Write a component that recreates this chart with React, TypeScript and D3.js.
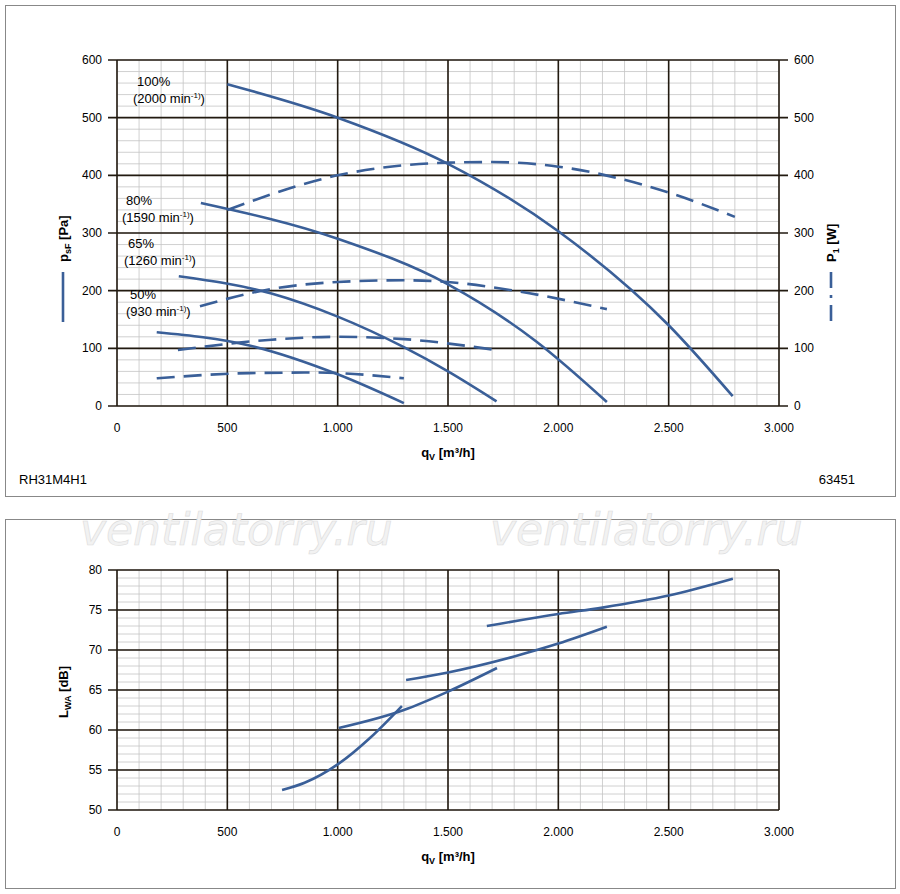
import * as d3 from "d3";

const xTicks = [0, 500, 1000, 1500, 2000, 2500, 3000];
const xTickLabels = ["0", "500", "1.000", "1.500", "2.000", "2.500", "3.000"];
const pTicks = [0, 100, 200, 300, 400, 500, 600];
const lTicks = [50, 55, 60, 65, 70, 75, 80];

type Pt = [number, number];
const pressure: Pt[][] = [
  [[500, 558], [1000, 500], [1500, 420], [2000, 303], [2500, 140], [2790, 17]],
  [[380, 352], [1000, 290], [1500, 211], [1900, 112], [2220, 7]],
  [[280, 225], [700, 195], [1000, 155], [1300, 102], [1500, 60], [1720, 8]],
  [[180, 128], [600, 105], [1000, 55], [1300, 5]],
];
const power: Pt[][] = [
  [[500, 340], [1000, 400], [1500, 422], [1700, 423], [2000, 415], [2500, 370], [2800, 328]],
  [[376, 173], [700, 203], [1000, 215], [1300, 218], [1500, 215], [1800, 200], [2220, 168]],
  [[276, 97], [700, 115], [1000, 120], [1300, 116], [1720, 97]],
  [[180, 48], [600, 57], [900, 58], [1300, 48]],
];
const sound: Pt[][] = [
  [[748, 52.5], [850, 53.4], [1000, 55.7], [1150, 59.1], [1291, 63]],
  [[1005, 60.25], [1300, 62.5], [1500, 64.8], [1722, 67.75]],
  [[1310, 66.25], [1500, 67.2], [1800, 69.2], [2000, 70.8], [2220, 72.9]],
  [[1676, 73], [2000, 74.5], [2200, 75.3], [2500, 76.8], [2791, 78.9]],
];
const speedLabels = [
  ["100%", "(2000 min", "-1)", ")", 137, 86],
  ["80%", "(1590 min", "-1)", ")", 126, 205],
  ["65%", "(1260 min", "-1)", ")", 128, 248],
  ["50%", "(930 min", "-1)", ")", 130, 299],
] as const;

const blue = "#3a5f98";
const font = "Liberation Sans, Arial, sans-serif";

function Grid({ x, y, ymin, ymax, ystep }: { x: d3.ScaleLinear<number, number>; y: d3.ScaleLinear<number, number>; ymin: number; ymax: number; ystep: number }) {
  const xs = d3.range(0, 3001, 100);
  const ys = d3.range(ymin, ymax + 0.001, ystep);
  const [x0, x1] = x.range();
  const [y0, y1] = y.range();
  return (
    <g>
      {xs.map((v) => (
        <line key={"x" + v} x1={x(v)} x2={x(v)} y1={y0} y2={y1} stroke="#c4c4c4" strokeWidth={0.8} />
      ))}
      {ys.map((v) => (
        <line key={"y" + v} x1={x0} x2={x1} y1={y(v)} y2={y(v)} stroke="#c4c4c4" strokeWidth={0.8} />
      ))}
    </g>
  );
}

export default function App() {
  const x = d3.scaleLinear().domain([0, 3000]).range([117, 779]);
  const yP = d3.scaleLinear().domain([0, 600]).range([406, 60]);
  const yL = d3.scaleLinear().domain([50, 80]).range([810, 570]);
  const lineP = d3.line<Pt>().x((d) => x(d[0])).y((d) => yP(d[1])).curve(d3.curveMonotoneX);
  const lineL = d3.line<Pt>().x((d) => x(d[0])).y((d) => yL(d[1])).curve(d3.curveMonotoneX);

  const majorX = (y0: number, y1: number) =>
    xTicks.map((v) => <line key={v} x1={x(v)} x2={x(v)} y1={y0} y2={y1} stroke="#221a10" strokeWidth={1.6} />);

  return (
    <svg width={900} height={894} style={{ position: "absolute", left: 0, top: 0 }} fontFamily={font}>
      <rect x={0} y={0} width={900} height={894} fill="#fff" />
      <rect x={5.5} y={5.5} width={890} height={491} fill="none" stroke="#888" />
      <rect x={5.5} y={519.5} width={890} height={369} fill="none" stroke="#888" />

      {/* top chart */}
      <Grid x={x} y={yP} ymin={0} ymax={600} ystep={20} />
      {majorX(60, 406)}
      {pTicks.map((v) => (
        <g key={v}>
          <line x1={108} x2={788} y1={yP(v)} y2={yP(v)} stroke="#221a10" strokeWidth={1.6} />
          <text x={102} y={yP(v) + 4} fontSize={12} textAnchor="end">{v}</text>
          <text x={794} y={yP(v) + 4} fontSize={12}>{v}</text>
        </g>
      ))}
      {xTicks.map((v, i) => (
        <text key={v} x={x(v)} y={432} fontSize={12} textAnchor="middle">{xTickLabels[i]}</text>
      ))}
      {pressure.map((c, i) => (
        <path key={i} d={lineP(c)!} fill="none" stroke={blue} strokeWidth={2.6} />
      ))}
      {power.map((c, i) => (
        <path key={i} d={lineP(c)!} fill="none" stroke={blue} strokeWidth={2.6} strokeDasharray="18 9" />
      ))}
      {speedLabels.map(([a, b, sup, c, lx, ly]) => (
        <g key={a} fontSize={13}>
          <text x={lx} y={ly}>{a}</text>
          <text x={lx - 4} y={ly + 17}>
            {b}<tspan fontSize={8} dy={-5}>{sup}</tspan><tspan dy={5}>{c}</tspan>
          </text>
        </g>
      ))}
      <text x={448} y={457} fontSize={13} fontWeight="bold" textAnchor="middle">
        q<tspan fontSize={9} dy={3}>V</tspan><tspan dy={-3}> [m³/h]</tspan>
      </text>
      <text transform="translate(68,262) rotate(-90)" fontSize={13} fontWeight="bold">
        p<tspan fontSize={9} dy={3}>sF</tspan><tspan dy={-3}> [Pa]</tspan>
      </text>
      <line x1={63} x2={63} y1={272} y2={322} stroke={blue} strokeWidth={2.6} />
      <text transform="translate(836,262) rotate(-90)" fontSize={13} fontWeight="bold">
        P<tspan fontSize={9} dy={3}>1</tspan><tspan dy={-3}> [W]</tspan>
      </text>
      <line x1={831} x2={831} y1={272} y2={323} stroke={blue} strokeWidth={2.6} strokeDasharray="16 7 3 7" />
      <text x={19} y={484} fontSize={13}>RH31M4H1</text>
      <text x={855} y={484} fontSize={13} textAnchor="end">63451</text>

      {/* watermark */}
      <text x={80} y={545} fontSize={44} fontStyle="italic" fill="#f2f2f2" stroke="#dcdcdc" strokeWidth={0.6} fontFamily="DejaVu Sans, sans-serif">ventilatorry.ru</text>
      <text x={490} y={545} fontSize={44} fontStyle="italic" fill="#f2f2f2" stroke="#dcdcdc" strokeWidth={0.6} fontFamily="DejaVu Sans, sans-serif">ventilatorry.ru</text>

      {/* bottom chart */}
      <Grid x={x} y={yL} ymin={50} ymax={80} ystep={1} />
      {majorX(570, 810)}
      {lTicks.map((v) => (
        <g key={v}>
          <line x1={108} x2={779} y1={yL(v)} y2={yL(v)} stroke="#221a10" strokeWidth={1.6} />
          <text x={102} y={yL(v) + 4} fontSize={12} textAnchor="end">{v}</text>
        </g>
      ))}
      {xTicks.map((v, i) => (
        <text key={v} x={x(v)} y={836} fontSize={12} textAnchor="middle">{xTickLabels[i]}</text>
      ))}
      {sound.map((c, i) => (
        <path key={i} d={lineL(c)!} fill="none" stroke={blue} strokeWidth={2.6} />
      ))}
      <text x={448} y={861} fontSize={13} fontWeight="bold" textAnchor="middle">
        q<tspan fontSize={9} dy={3}>V</tspan><tspan dy={-3}> [m³/h]</tspan>
      </text>
      <text transform="translate(68,718) rotate(-90)" fontSize={13} fontWeight="bold">
        L<tspan fontSize={9} dy={3}>WA</tspan><tspan dy={-3}> [dB]</tspan>
      </text>
    </svg>
  );
}
